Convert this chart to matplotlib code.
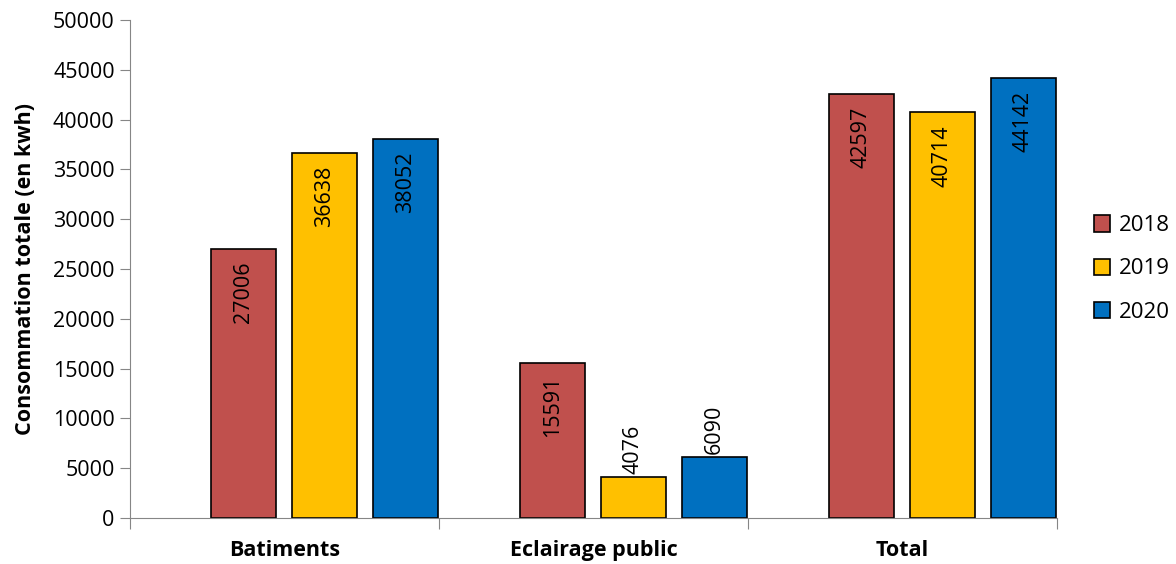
import matplotlib.pyplot as plt
import numpy as np

categories = ["Batiments", "Eclairage public", "Total"]
years = ["2018", "2019", "2020"]
values_2018 = [27006, 15591, 42597]
values_2019 = [36638, 4076, 40714]
values_2020 = [38052, 6090, 44142]
colors = ["#C0504D", "#FFC000", "#0070C0"]

plt.rcParams['font.family'] = ['Open Sans', 'DejaVu Sans']

fig = plt.figure(figsize=(11.76, 5.64), dpi=100)
ax = fig.add_axes([130 / 1176, 1 - 518 / 564, (1057 - 130) / 1176, (518 - 20) / 564])

series = [values_2018, values_2019, values_2020]
offsets = [-0.133, 0.129, 0.391]
width = 0.21
x = np.arange(len(categories)) + 0.5

for vals, off, col, yr in zip(series, offsets, colors, years):
    bars = ax.bar(x + off, vals, width, color=col, edgecolor="black", linewidth=1.2, label=yr)
    for b, v in zip(bars, vals):
        cx = b.get_x() + b.get_width() / 2
        if v > 10000:
            ax.text(cx, v - 1300, str(v), rotation=90, ha="center", va="top", fontsize=15.5)
        else:
            ax.text(cx, v + 300, str(v), rotation=90, ha="center", va="bottom", fontsize=15.5)

ax.set_xlim(0, 3)
ax.set_ylim(0, 50000)
ax.set_yticks(np.arange(0, 50001, 5000))
ax.set_xticks([0, 1, 2, 3])
ax.set_xticklabels([])
ax.set_xticks(x, minor=True)
ax.set_xticklabels(categories, minor=True, fontsize=15.5, fontweight="bold")
ax.tick_params(axis="x", which="minor", length=0, pad=16)
ax.tick_params(axis="x", which="major", length=8, color="#868686")
ax.tick_params(axis="y", length=7, color="#868686", labelsize=15.5, pad=4)

for s in ["top", "right"]:
    ax.spines[s].set_visible(False)
for s in ["left", "bottom"]:
    ax.spines[s].set_color("#868686")

ax.set_ylabel("Consommation totale (en kwh)", fontsize=15.5, fontweight="bold", labelpad=12)

ax.legend(loc="center left", bbox_to_anchor=(1.03, 0.5), frameon=False, fontsize=16,
          handlelength=0.75, handleheight=0.75, handletextpad=0.4, labelspacing=1.0,
          borderaxespad=0)

fig.savefig("out.png", dpi=100)
